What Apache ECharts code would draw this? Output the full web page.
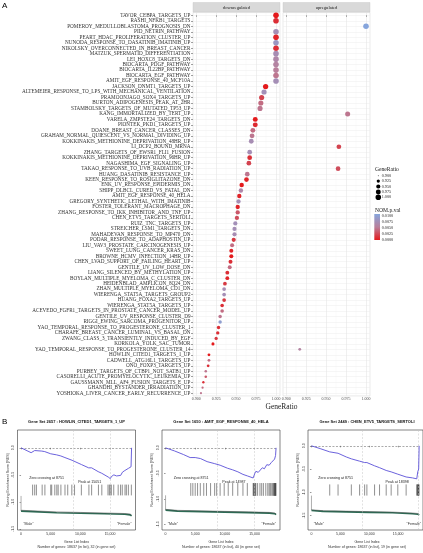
<!DOCTYPE html>
<html>
<head>
<meta charset="utf-8">
<script src="https://cdn.jsdelivr.net/npm/echarts@6/dist/echarts.min.js"></script>
<style>html,body{margin:0;background:#fff}#chart{width:423px;height:553px}</style>
</head>
<body>
<div id="chart"></div>
<script>
// ---- panel A data ----
const categories = [
  'TAVOR_CEBPA_TARGETS_UP','RASHI_NFKB1_TARGETS','POMEROY_MEDULLOBLASTOMA_PROGNOSIS_DN','PID_NETRIN_PATHWAY',
  'PEART_HDAC_PROLIFERATION_CLUSTER_UP','NUNODA_RESPONSE_TO_DASATINIB_IMATINIB_UP','NIKOLSKY_OVERCONNECTED_IN_BREAST_CANCER',
  'MATZUK_SPERMATID_DIFFERENTIATION','LEI_HOXC8_TARGETS_DN','BIOCARTA_PDGF_PATHWAY','BIOCARTA_IL22BP_PATHWAY',
  'BIOCARTA_EGF_PATHWAY','AMIT_EGF_RESPONSE_40_MCF10A','JACKSON_DNMT1_TARGETS_UP',
  'ALTEMEIER_RESPONSE_TO_LPS_WITH_MECHANICAL_VENTILATION','PRAMOONJAGO_SOX4_TARGETS_UP','BURTON_ADIPOGENESIS_PEAK_AT_2HR',
  'STAMBOLSKY_TARGETS_OF_MUTATED_TP53_UP','KANG_IMMORTALIZED_BY_TERT_UP','VARELA_ZMPSTE24_TARGETS_DN',
  'PIONTEK_PKD1_TARGETS_UP','DOANE_BREAST_CANCER_CLASSES_DN','GRAHAM_NORMAL_QUIESCENT_VS_NORMAL_DIVIDING_UP',
  'KOKKINAKIS_METHIONINE_DEPRIVATION_48HR_UP','LI_DCP2_BOUND_MRNA','ZHANG_TARGETS_OF_EWSR1_FLI1_FUSION',
  'KOKKINAKIS_METHIONINE_DEPRIVATION_96HR_UP','NAGASHIMA_EGF_SIGNALING_UP','TAKAO_RESPONSE_TO_UVB_RADIATION_UP',
  'HUANG_DASATINIB_RESISTANCE_UP','KEEN_RESPONSE_TO_ROSIGLITAZONE_DN','ENK_UV_RESPONSE_EPIDERMIS_DN',
  'SHIPP_DLBCL_CURED_VS_FATAL_DN','AMIT_EGF_RESPONSE_40_HELA','GREGORY_SYNTHETIC_LETHAL_WITH_IMATINIB',
  'FOSTER_TOLERANT_MACROPHAGE_DN','ZHANG_RESPONSE_TO_IKK_INHIBITOR_AND_TNF_UP','CHEN_ETV5_TARGETS_SERTOLI',
  'RUIZ_TNC_TARGETS_UP','STREICHER_LSM1_TARGETS_DN','MAHADEVAN_RESPONSE_TO_MP470_DN','PODAR_RESPONSE_TO_ADAPHOSTIN_UP',
  'LIU_VAV3_PROSTATE_CARCINOGENESIS_UP','SWEET_LUNG_CANCER_KRAS_DN','BROWNE_HCMV_INFECTION_14HR_UP',
  'CHEN_LVAD_SUPPORT_OF_FAILING_HEART_UP','GENTILE_UV_LOW_DOSE_DN','LIANG_SILENCED_BY_METHYLATION_UP',
  'BOYLAN_MULTIPLE_MYELOMA_C_CLUSTER_DN','HEIDENBLAD_AMPLICON_8Q24_DN','ZHAN_MULTIPLE_MYELOMA_CD1_DN',
  'WIERENGA_STAT5A_TARGETS_GROUP2','HUANG_FOXA2_TARGETS_UP','WIERENGA_STAT5A_TARGETS_UP',
  'ACEVEDO_FGFR1_TARGETS_IN_PROSTATE_CANCER_MODEL_UP','GENTILE_UV_RESPONSE_CLUSTER_D9','RIGGI_EWING_SARCOMA_PROGENITOR_UP',
  'YAO_TEMPORAL_RESPONSE_TO_PROGESTERONE_CLUSTER_1','CHARAFE_BREAST_CANCER_LUMINAL_VS_BASAL_DN',
  'ZWANG_CLASS_3_TRANSIENTLY_INDUCED_BY_EGF','KORKOLA_YOLK_SAC_TUMOR','YAO_TEMPORAL_RESPONSE_TO_PROGESTERONE_CLUSTER_14',
  'HOWLIN_CITED1_TARGETS_1_UP','CADWELL_ATG16L1_TARGETS_UP','ONO_FOXP3_TARGETS_UP','PURBEY_TARGETS_OF_CTBP1_NOT_SATB1_UP',
  'CASORELLI_ACUTE_PROMYELOCYTIC_LEUKEMIA_UP','GAUSSMANN_MLL_AF4_FUSION_TARGETS_E_UP','GHANDHI_BYSTANDER_IRRADIATION_UP',
  'YOSHIOKA_LIVER_CANCER_EARLY_RECURRENCE_UP'
];
const geneRatio = [
  1.000,1.000,1.000,1.000,1.000,1.000,1.000,1.000,1.000,1.000,1.000,1.000,1.000,0.987,0.985,0.982,0.981,0.980,0.977,0.974,
  0.974,0.971,0.970,0.969,0.966,0.967,0.967,0.966,0.965,0.964,0.963,0.957,0.956,0.954,0.953,0.952,0.952,0.951,0.949,0.948,
  0.948,0.947,0.945,0.944,0.944,0.943,0.942,0.939,0.939,0.936,0.935,0.935,0.935,0.9325,0.9325,0.930,0.930,0.928,0.927,0.925,
  0.921,0.917,0.916,0.916,0.915,0.912,0.912,0.909,0.908,0.906
];
const pValue = [
  0.0000,0.0010,0.0100,0.0070,0.0005,0.0080,0.0010,0.0068,0.0060,0.0055,0.0050,0.0045,0.0070,0.0000,0.0072,0.0020,0.0040,0.0045,0.0045,0.0000,
  0.0008,0.0040,0.0045,0.0068,0.0020,0.0070,0.0010,0.0020,0.0025,0.0045,0.0005,0.0000,0.0060,0.0005,0.0070,0.0005,0.0030,0.0025,0.0072,0.0070,
  0.0068,0.0015,0.0040,0.0005,0.0000,0.0010,0.0040,0.0010,0.0005,0.0015,0.0068,0.0070,0.0015,0.0010,0.0040,0.0045,0.0090,0.0010,0.0010,0.0015,
  0.0000,0.0055,0.0000,0.0040,0.0010,0.0045,0.0030,0.0010,0.0040,0.0045
];
const upRows = [2, 18, 24, 28, 61];   // rows that sit in the "upregulated" facet
const facetNames = ['downregulated', 'upregulated'];
const ratioTicks = [0.9, 0.925, 0.95, 0.975, 1.0];
const ratioMinor = [0.9125, 0.9375, 0.9625, 0.9875];
const pvalLegend = ['0.0100', '0.0075', '0.0050', '0.0025', '0.0000'];

// ---- panel B data ----
const totalGenes = 18637;
const zeroCrossing = 8751;
const gseaTitles = ['Gene Set 2657 : HOWLIN_CITED1_TARGETS_1_UP', 'Gene Set 1650 : AMIT_EGF_RESPONSE_40_HELA', 'Gene Set 2449 : CHEN_ETV5_TARGETS_SERTOLI'];
const gseaSetSize = [32, 40, 19];
const gseaPeak = [15051, 14987, 18398];
const es1 = [[0,0],[1700,-0.09],[1950,-0.07],[2300,-0.05],[2600,-0.03],[3500,-0.06],[4000,-0.07],[5000,-0.11],[5200,-0.10],[6000,-0.13],
  [6700,-0.15],[7400,-0.18],[8600,-0.23],[10200,-0.31],[11400,-0.37],[11900,-0.37],[13000,-0.44],[13600,-0.47],[14700,-0.54],[15050,-0.57],
  [15250,-0.53],[15650,-0.50],[16100,-0.52],[16400,-0.49],[16800,-0.51],[17100,-0.45],[17500,-0.42],[17800,-0.40],[18100,-0.38],[18400,-0.40],
  [18550,-0.35],[18637,0]];
const es2 = [[0,0],[1500,-0.06],[3000,-0.13],[4140,-0.19],[4420,-0.17],[5000,-0.19],[5900,-0.21],[7010,-0.27],[8300,-0.31],[9200,-0.34],
  [10460,-0.40],[11300,-0.43],[12200,-0.47],[13050,-0.52],[13800,-0.55],[14770,-0.59],[14940,-0.61],[15060,-0.50],[15230,-0.46],[15630,-0.48],
  [15920,-0.45],[16320,-0.39],[16670,-0.41],[17070,-0.33],[17470,-0.34],[17820,-0.29],[18050,-0.27],[18390,-0.22],[18550,-0.15],[18637,0]];
const es3 = [[0,0],[1500,-0.06],[3160,-0.13],[3300,-0.11],[4600,-0.16],[4700,-0.15],[6030,-0.24],[6900,-0.28],[7000,-0.26],[8330,-0.33],
  [8400,-0.31],[9200,-0.36],[9590,-0.36],[10920,-0.43],[11780,-0.47],[12930,-0.53],[13790,-0.56],[14940,-0.61],[16380,-0.67],[17500,-0.69],
  [18220,-0.71],[18390,-0.56],[18550,-0.50],[18637,0]];
const hits1 = [1950,2300,2590,3560,4020,5000,5170,5690,6030,6260,6720,7410,7870,8560,9020,10170,11440,11900,13050,13620,
  14660,14890,15050,15230,15630,16380,16780,17070,17530,17760,18100,18600];
const hits2 = [4250,4600,5000,5400,5860,6440,6900,7590,8280,8620,9200,9890,10570,11320,12180,13050,13790,14770,14850,14940,
  15060,15120,15230,15520,15920,16210,16500,16900,17240,17470,17650,17820,18050,18220,18300,18390,18450,18500,18560,18620];
const hits3 = [3160,4600,6900,8330,9200,9590,10920,11780,12930,13790,14940,16380,18220,18300,18390,18450,18500,18560,18600];
const spike1 = [[0,-0.89],[0,-1.17]];
const spike2 = [[0,-0.93],[0,-1.22]];
const spike3 = [[0,-1.07],[0,-1.38]];
const metric1 = [[0,-1.17],[300,-1.17],[2000,-1.18],[6000,-1.20],[10000,-1.21],[14000,-1.22],[17500,-1.23],[18400,-1.24],[18637,-1.26]];
const metric2 = [[0,-1.22],[300,-1.23],[2000,-1.24],[6000,-1.25],[10000,-1.26],[14000,-1.27],[17500,-1.28],[18400,-1.29],[18637,-1.31]];
const metric3 = [[0,-1.39],[300,-1.40],[2000,-1.41],[6000,-1.42],[10000,-1.43],[14000,-1.44],[17500,-1.46],[18400,-1.47],[18637,-1.49]];
const indexTicks = [0, 5000, 10000, 15000];
const esTicks = [0, -0.5, -1, -1.5];

const SERIF = 'Liberation Serif';
const SANS = 'Liberation Sans';
const RED = '#e41a1c', MID = '#b9809c', BLUE = '#86a5dc';

// layout
const facetLeft = [193, 283], facetW = 87, facetTop = 12.6, facetH = 383.3;
const gseaLeft = [17.5, 162, 308], gseaTop = 430, gseaW = 118, gseaH = 100;
const gseaY = [[-1.52, 0.33], [-1.61, 0.35], [-1.81, 0.34]];
const hitBand = [[-0.68, -0.88], [-0.69, -0.94], [-0.83, -1.07]];

function dotSize(r) {
  const t = Math.max(0, Math.min(1, (r - 0.9) / 0.1));
  return 5.6 * (1 + 5 * Math.sqrt(t)) / 6;
}

const rowIdx = categories.map((_, i) => i);
const grids = [], xAxes = [], yAxes = [], series = [];

facetLeft.forEach((left, f) => {
  grids.push({ left: left, top: facetTop, width: facetW, height: facetH, show: true, borderColor: '#d4d4d4', borderWidth: 0.5 });
});
facetLeft.forEach((left, f) => {
  xAxes.push({
    gridIndex: f, type: 'value', min: 0.896, max: 1.005, axisLine: { show: false },
    axisTick: { customValues: ratioTicks, length: 1.5, lineStyle: { color: '#444', width: 0.5 } },
    axisLabel: { customValues: ratioTicks, fontSize: 4, fontFamily: SERIF, color: '#4d4d4d', margin: 1.5, formatter: v => v.toFixed(3) },
    splitLine: { show: true, lineStyle: { color: '#e6e6e6', width: 0.6 } }
  });
  yAxes.push({
    gridIndex: f, type: 'value', min: -0.5, max: 69.5, inverse: true, axisLine: { show: false },
    axisTick: { show: f === 0, customValues: rowIdx, length: 2, lineStyle: { color: '#444', width: 0.5 } },
    axisLabel: { show: f === 0, customValues: rowIdx, formatter: v => categories[v], fontSize: 5.2, fontFamily: SERIF, color: '#333', margin: 2.5 },
    splitLine: { show: true, lineStyle: { color: '#ececec', width: 0.5 } }
  });
});
// minor vertical grid lines
facetLeft.forEach((left, f) => {
  xAxes.push({
    gridIndex: f, type: 'value', min: 0.896, max: 1.005, position: 'bottom', axisLine: { show: false },
    axisTick: { show: false, customValues: ratioMinor }, axisLabel: { show: false, customValues: ratioMinor },
    splitLine: { show: true, lineStyle: { color: '#f3f3f3', width: 0.4 } }
  });
});

[0, 1].forEach(f => {
  const rows = rowIdx.filter(i => (upRows.indexOf(i) >= 0) === (f === 1));
  series.push({
    type: 'scatter', xAxisIndex: f, yAxisIndex: f,
    data: rows.map(i => [geneRatio[i], i, pValue[i]]),
    symbolSize: d => dotSize(d[0]), itemStyle: { opacity: 1 }, z: 5
  });
});

const esData = [es1, es2, es3], hitData = [hits1, hits2, hits3];
const spikeData = [spike1, spike2, spike3], metricData = [metric1, metric2, metric3];

gseaLeft.forEach((left, p) => {
  const gi = 2 + p;
  grids.push({ left: left, top: gseaTop, width: gseaW, height: gseaH, show: true, borderColor: '#333', borderWidth: 0.6 });
  xAxes.push({
    gridIndex: gi, type: 'value', min: -600, max: 19300, axisLine: { show: false }, splitLine: { show: false },
    axisTick: { customValues: indexTicks, length: 1.5, lineStyle: { color: '#333', width: 0.5 } },
    axisLabel: { customValues: indexTicks, fontSize: 3.5, fontFamily: SANS, color: '#333', margin: 2.5 }
  });
  yAxes.push({
    gridIndex: gi, type: 'value', min: gseaY[p][0], max: gseaY[p][1], axisLine: { show: false }, splitLine: { show: false },
    axisTick: { customValues: esTicks, length: 1.5, lineStyle: { color: '#333', width: 0.5 } },
    axisLabel: { customValues: esTicks, rotate: 90, fontSize: 3.5, fontFamily: SANS, color: '#333', margin: 2, formatter: v => v.toFixed(1) }
  });
  const xi = 4 + p, yi = 2 + p;
  series.push({
    type: 'line', xAxisIndex: xi, yAxisIndex: yi, data: spikeData[p], showSymbol: false,
    lineStyle: { color: '#9a9a9a', width: 0.8 }, z: 3
  });
  series.push({
    type: 'line', xAxisIndex: xi, yAxisIndex: yi, data: metricData[p], showSymbol: false,
    lineStyle: { color: '#2d6b55', width: 1.6 }, z: 3
  });
  series.push({
    type: 'line', xAxisIndex: xi, yAxisIndex: yi, data: metricData[p].map(d => [d[0], d[1] + 0.015]), showSymbol: false,
    lineStyle: { color: '#444', width: 0.5 }, z: 4
  });
  series.push({
    type: 'custom', xAxisIndex: xi, yAxisIndex: yi, data: hitData[p],
    renderItem: (params, api) => {
      const a = api.coord([api.value(0), hitBand[p][0]]);
      const b = api.coord([api.value(0), hitBand[p][1]]);
      return { type: 'line', shape: { x1: a[0], y1: a[1], x2: b[0], y2: b[1] }, style: { stroke: '#222', lineWidth: 0.5 } };
    }, z: 4
  });
  series.push({
    type: 'line', xAxisIndex: xi, yAxisIndex: yi, data: esData[p], showSymbol: false,
    lineStyle: { color: '#5a50d8', width: 0.9 }, z: 6,
    markLine: {
      silent: true, symbol: 'none', label: { show: false }, animation: false,
      data: [
        [{ coord: [0, 0] }, { coord: [totalGenes, 0], lineStyle: { type: [2, 1.5], color: '#555', width: 0.5 } }],
        { xAxis: zeroCrossing, lineStyle: { type: [2, 1.5], color: '#c4c4c4', width: 0.5 } },
        { xAxis: gseaPeak[p], lineStyle: { type: [2, 1.5], color: '#c4c4c4', width: 0.5 } }
      ]
    }
  });
});

const chart = echarts.init(document.getElementById('chart'), null, { renderer: 'canvas' });
chart.setOption({
  animation: false,
  backgroundColor: '#fff',
  grid: grids, xAxis: xAxes, yAxis: yAxes, series: series,
  visualMap: {
    type: 'continuous', show: false, dimension: 2, min: 0, max: 0.01, seriesIndex: [0, 1],
    inRange: { color: [RED, MID, BLUE] }
  }
});

// ---- text and legends ----
function txt(x, y, s, size, font, opt) {
  opt = opt || {};
  return {
    type: 'text', x: x, y: y, rotation: opt.rotation || 0, silent: true,
    style: {
      text: s, fontSize: size, fontFamily: font, fill: opt.fill || '#222', fontWeight: opt.bold ? 'bold' : 'normal',
      align: opt.align || 'left', verticalAlign: 'middle', textAlign: opt.align || 'left', textVerticalAlign: 'middle'
    }
  };
}
const g = [];
g.push(txt(2, 5.5, 'A', 8, SANS, { fill: '#000' }));
g.push(txt(2, 422, 'B', 8, SANS, { fill: '#000' }));
facetLeft.forEach((left, f) => {
  g.push({ type: 'rect', silent: true, shape: { x: left, y: 2.5, width: facetW, height: 9.6 }, style: { fill: '#d9d9d9', stroke: '#c4c4c4', lineWidth: 0.4 } });
  g.push(txt(left + facetW / 2, 7.4, facetNames[f], 4.6, SERIF, { align: 'center', fill: '#1a1a1a' }));
});
g.push(txt(281.5, 407.5, 'GeneRatio', 7.5, SERIF, { align: 'center', fill: '#222' }));

// size legend
g.push(txt(375, 169.3, 'GeneRatio', 5.6, SERIF));
ratioTicks.forEach((v, k) => {
  const cy = 175.7 + k * 5.4;
  g.push({ type: 'circle', silent: true, shape: { cx: 378.3, cy: cy, r: dotSize(v) / 2 }, style: { fill: '#000' } });
  g.push(txt(381.7, cy, v.toFixed(3), 4.2, SERIF));
});
// colour bar legend
g.push(txt(375, 210.5, 'NOM.p.val', 5.6, SERIF));
g.push({
  type: 'rect', silent: true, shape: { x: 374.3, y: 214, width: 5.7, height: 26 },
  style: { fill: new echarts.graphic.LinearGradient(0, 0, 0, 1, [{ offset: 0, color: BLUE }, { offset: 0.5, color: MID }, { offset: 1, color: RED }]) }
});
pvalLegend.forEach((s, k) => g.push(txt(381.7, 215.7 + k * 6, s, 4.2, SERIF)));

// GSEA annotations
gseaLeft.forEach((left, p) => {
  const gi = 2 + p, cx = left + gseaW / 2;
  g.push(txt(cx, 422, gseaTitles[p], 4, SANS, { align: 'center', bold: true, fill: '#111' }));
  g.push(txt(left - 10, gseaTop + gseaH / 2, 'Running Enrichment Score (RES)', 3.6, SANS, { align: 'center', rotation: Math.PI / 2, fill: '#333' }));
  g.push(txt(cx, 542, 'Gene List Index', 3.6, SANS, { align: 'center', fill: '#333' }));
  g.push(txt(cx, 547, 'Number of genes: ' + totalGenes + ' (in list), ' + gseaSetSize[p] + ' (in gene set)', 3.6, SANS, { align: 'center', fill: '#333' }));
  const zx = chart.convertToPixel({ gridIndex: gi }, [zeroCrossing, 0])[0];
  const px = chart.convertToPixel({ gridIndex: gi }, [gseaPeak[p], 0])[0];
  g.push(txt(zx - 9, gseaTop + 48, 'Zero crossing at ' + zeroCrossing, 3.6, SANS, { align: 'right', fill: '#222' }));
  g.push(txt(px - 9, gseaTop + 51.7, 'Peak at ' + gseaPeak[p], 3.6, SANS, { align: 'right', fill: '#222' }));
  g.push(txt(left + 5.8, gseaTop + 94.3, '"Male"', 3.6, SANS, { fill: '#333' }));
  g.push(txt(Math.min(left + gseaW - 4, 421), gseaTop + 94.3, '"Female"', 3.6, SANS, { align: 'right', fill: '#333' }));
});
chart.setOption({ graphic: g });
</script>
</body>
</html>
